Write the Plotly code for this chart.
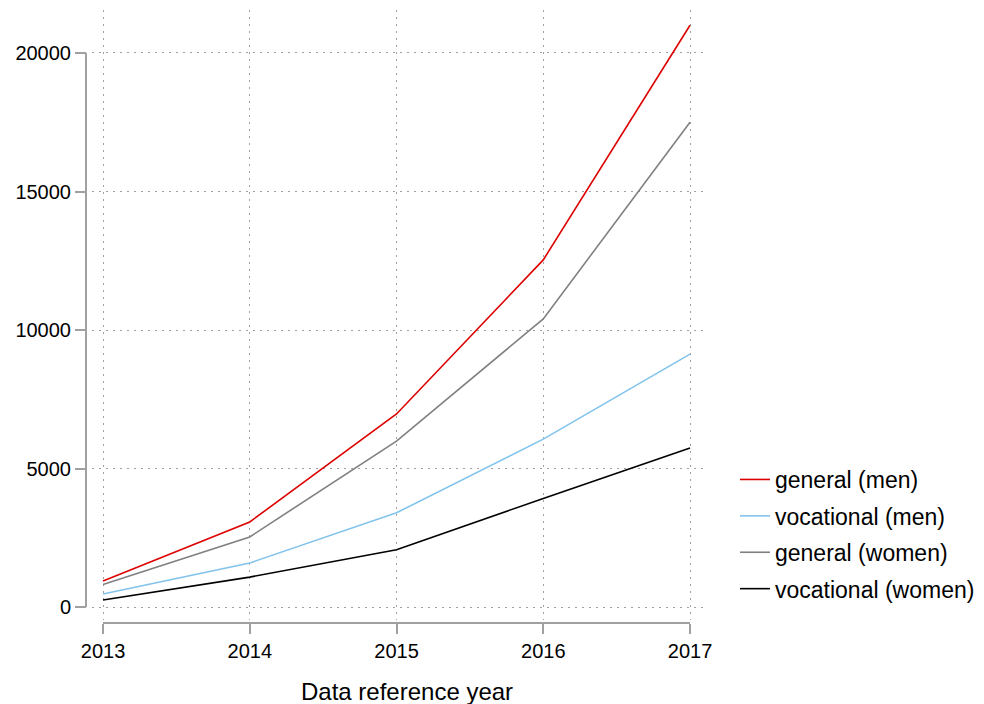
import plotly.graph_objects as go

years = [2013, 2014, 2015, 2016, 2017]
general_men = [940, 3070, 6970, 12530, 21000]
vocational_men = [470, 1590, 3400, 6060, 9130]
general_women = [810, 2530, 5990, 10400, 17500]
vocational_women = [250, 1080, 2070, 3920, 5740]
y_ticks = [0, 5000, 10000, 15000, 20000]

series = [
    ("general (men)", general_men, "#DD0000"),
    ("vocational (men)", vocational_men, "#82C3EC"),
    ("general (women)", general_women, "#808080"),
    ("vocational (women)", vocational_women, "#000000"),
]

FONT = "Liberation Sans, Arial, sans-serif"
AXC = "#A0A0A0"
GRID = "#A0A0A0"

fig = go.Figure()
for i, (name, vals, col) in enumerate(series):
    fig.add_trace(go.Scatter(x=years, y=vals, mode="lines", name=name,
                             legendgroup=f"g{i}",
                             line=dict(color=col, width=1.6)))

# page body adds an 8px offset; margins are reduced accordingly
W, H = 1000, 704
ml, mt = 78, 2
pw, ph = 619, 613
mr = W - ml - pw
mb = H - mt - ph

fig.update_layout(
    width=W, height=H,
    margin=dict(l=ml, r=mr, t=mt, b=mb),
    plot_bgcolor="white", paper_bgcolor="white",
    font=dict(family=FONT, size=20, color="black"),
    showlegend=True,
    legend=dict(x=(735 - 86) / pw, xanchor="left", y=1 - (534.5 - 10) / ph,
                yanchor="middle",
                font=dict(size=23, color="black"),
                tracegroupgap=3.5, traceorder="grouped",
                bgcolor="rgba(0,0,0,0)"),
    xaxis=dict(domain=[6 / pw, 1], range=[2012.925, 2017.102],
               anchor="free", position=0,
               tickvals=years, ticktext=[str(y) for y in years],
               ticks="outside", ticklen=10, tickwidth=2, tickcolor=AXC,
               showline=False, zeroline=False,
               showgrid=True, gridcolor=GRID, griddash="2px,5px", gridwidth=1.2,
               tickfont=dict(size=20)),
    yaxis=dict(domain=[3 / ph, 1], range=[-469, 21552],
               anchor="free", position=0,
               tickvals=y_ticks, ticktext=[str(v) for v in y_ticks],
               ticks="outside", ticklen=11, tickwidth=2, tickcolor=AXC,
               showline=False, zeroline=False,
               showgrid=True, gridcolor=GRID, griddash="2px,5px", gridwidth=1.2,
               tickfont=dict(size=20)),
)

# axis lines spanning only the tick range (base-graphics style)
fig.add_shape(type="line", xref="paper", yref="y", x0=0, x1=0,
              y0=min(y_ticks), y1=max(y_ticks), line=dict(color=AXC, width=2))
fig.add_shape(type="line", xref="x", yref="paper", x0=min(years), x1=max(years),
              y0=0, y1=0, line=dict(color=AXC, width=2))

fig.add_annotation(text="Data reference year", xref="paper", yref="paper",
                   x=(407 - 86) / pw, y=-(691 - 623) / ph, xanchor="center",
                   yanchor="middle", showarrow=False,
                   font=dict(size=24, color="black"))

fig.write_html(
    "out.html",
    post_script="document.documentElement.style.overflow='hidden';"
                "document.body.style.overflow='hidden';",
)
